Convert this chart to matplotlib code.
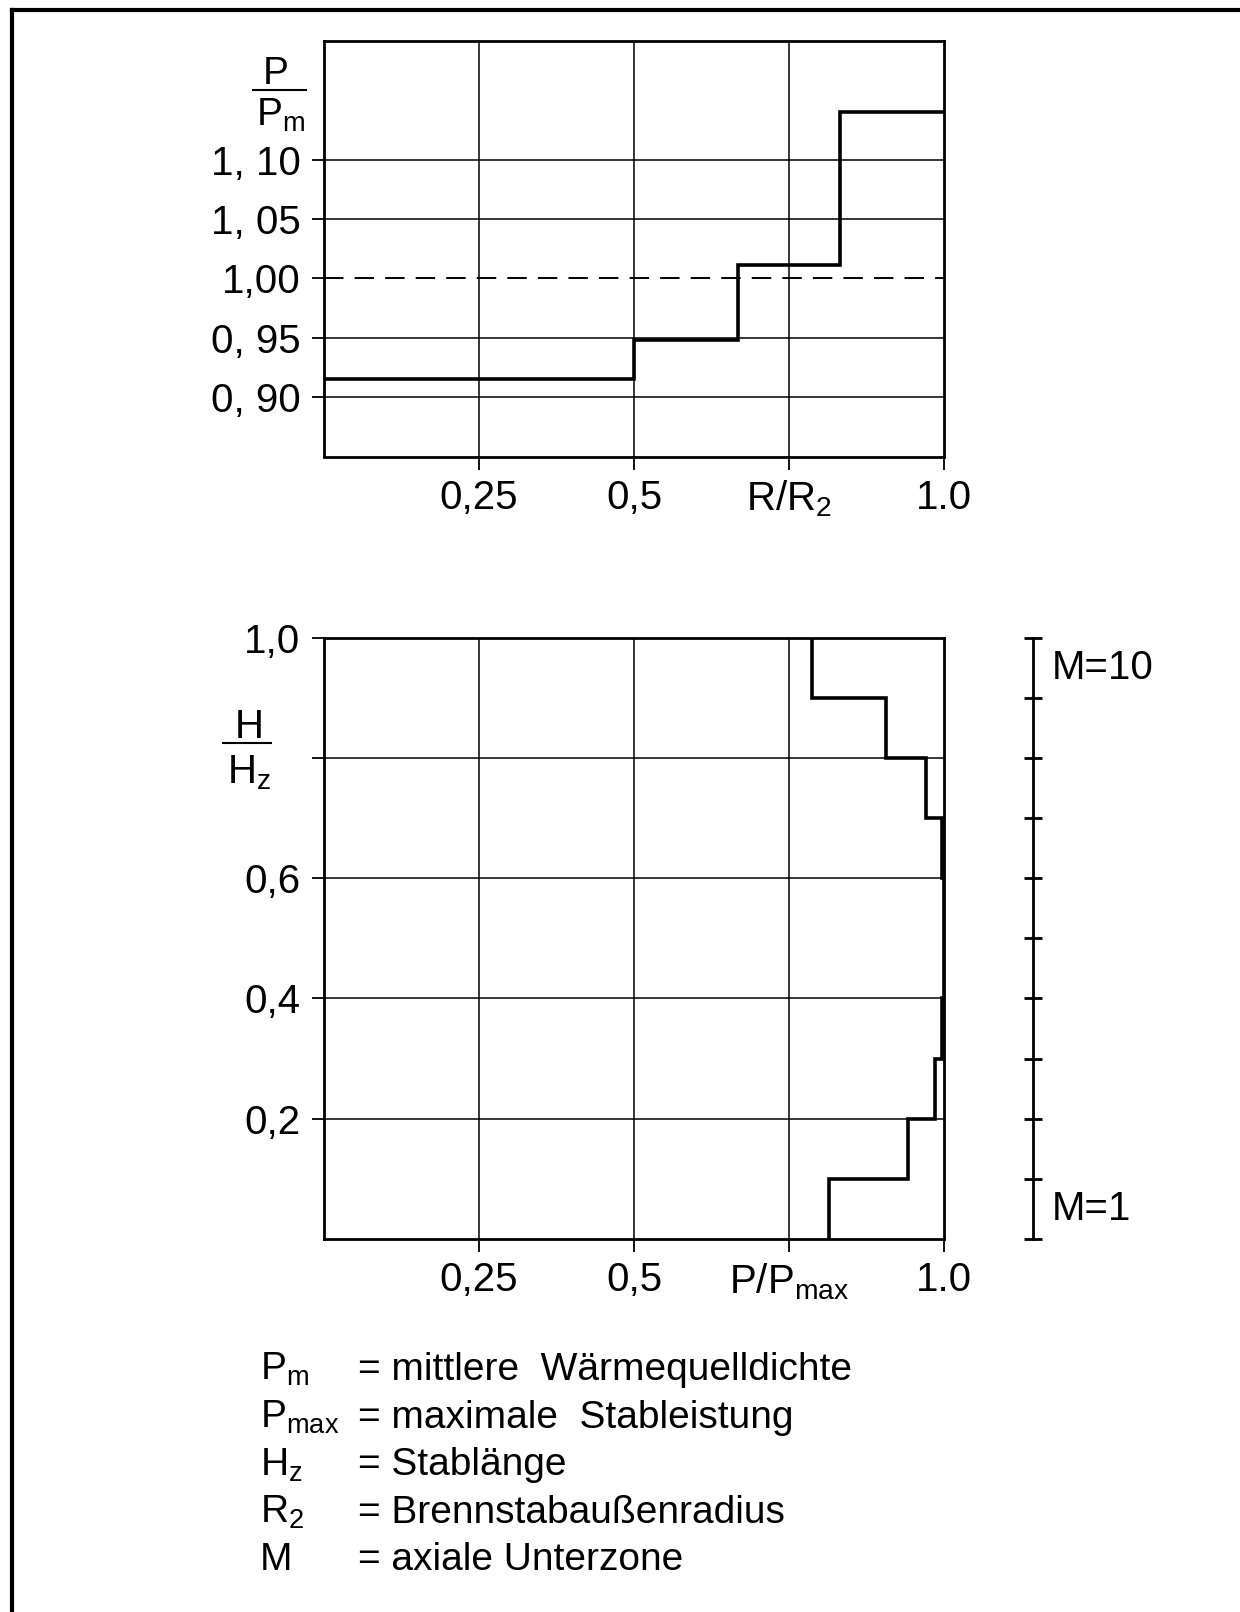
import matplotlib
matplotlib.use("Agg")
import matplotlib.pyplot as plt
from matplotlib.lines import Line2D

# radial power profile over the pellet radius
r_edges = [0.0, 0.5, 0.667, 0.833, 1.0]
p_radial = [0.915, 0.948, 1.011, 1.140]
r_ticks = [0.25, 0.5, 0.75, 1.0]
r_labels = ["0,25", "0,5", r"$\mathregular{R/R_2}$", "1.0"]
pr_ticks = [0.90, 0.95, 1.00, 1.05, 1.10]
pr_labels = ["0, 90", "0, 95", "1,00", "1, 05", "1, 10"]

# axial power profile, ten sub-zones over the rod length
h_edges = [0.0, 0.1, 0.2, 0.3, 0.4, 0.5, 0.6, 0.7, 0.8, 0.9, 1.0]
p_axial = [0.814, 0.942, 0.986, 0.997, 1.0, 1.0, 0.997, 0.971, 0.906, 0.787]
pa_ticks = [0.25, 0.5, 0.75, 1.0]
pa_labels = ["0,25", "0,5", r"$\mathregular{P/P_{max}}$", "1.0"]
h_ticks = [0.2, 0.4, 0.6, 0.8, 1.0]
h_labels = ["0,2", "0,4", "0,6", "", "1,0"]

legend_sym = [r"$\mathregular{P_m}$", r"$\mathregular{P_{max}}$", r"$\mathregular{H_z}$",
              r"$\mathregular{R_2}$", "M"]
legend_txt = ["= mittlere  Wärmequelldichte", "= maximale  Stableistung", "= Stablänge",
              "= Brennstabaußenradius", "= axiale Unterzone"]

plt.rcParams["font.family"] = ["Liberation Sans", "DejaVu Sans"]
plt.rcParams["lines.scale_dashes"] = False

W, H = 1240, 1612
fig = plt.figure(figsize=(W / 100, H / 100), dpi=100)


def fx(x):
    return x / W


def fy(y):
    return 1 - y / H


def style(ax):
    for s in ax.spines.values():
        s.set_linewidth(2.0)
    ax.tick_params(direction="out", length=9, width=1.3, labelsize=29, pad=8)
    ax.tick_params(axis="x", pad=7)


# upper plot: P/Pm over R/R2
ax1 = fig.add_axes([fx(324), fy(456.5), fx(620), 415.4 / H])
ax1.set_xlim(0, 1)
ax1.set_ylim(0.85, 1.20)
for x in r_ticks[:-1]:
    ax1.axvline(x, color="k", lw=1.1)
for y in pr_ticks:
    if y == 1.0:
        ax1.axhline(y, color="k", lw=1.4, dashes=(14, 8))
    else:
        ax1.axhline(y, color="k", lw=1.1)
ax1.stairs(p_radial, r_edges, baseline=None, color="k", lw=2.6)
ax1.set_xticks(r_ticks, r_labels)
ax1.set_yticks(pr_ticks, pr_labels)
style(ax1)

fig.text(fx(276), fy(84), "P", fontsize=28, ha="center", va="baseline")
fig.add_artist(Line2D([fx(253), fx(306)], [fy(90), fy(90)], color="k", lw=1.5))
fig.text(fx(281), fy(126), r"$\mathregular{P_m}$", fontsize=28, ha="center", va="baseline")

# lower plot: H/Hz over P/Pmax
ax2 = fig.add_axes([fx(324), fy(1239), fx(620), 601.5 / H])
ax2.set_xlim(0, 1)
ax2.set_ylim(0, 1)
for x in pa_ticks[:-1]:
    ax2.axvline(x, color="k", lw=1.1)
for y in h_ticks[:-1]:
    ax2.axhline(y, color="k", lw=1.1)
ax2.stairs(p_axial, h_edges, orientation="horizontal", baseline=None, color="k", lw=2.6)
ax2.set_xticks(pa_ticks, pa_labels)
ax2.set_yticks(h_ticks, h_labels)
style(ax2)

fig.text(fx(249), fy(738), "H", fontsize=29, ha="center", va="baseline")
fig.add_artist(Line2D([fx(223), fx(271)], [fy(743), fy(743)], color="k", lw=1.5))
fig.text(fx(249), fy(783), r"$\mathregular{H_z}$", fontsize=29, ha="center", va="baseline")

# sub-zone scale to the right of the lower plot
zx = 1.1435
ax2.plot([zx, zx], [h_edges[0], h_edges[-1]], color="k", lw=2.0, clip_on=False)
ax2.hlines(h_edges, zx - 0.0145, zx + 0.0145, color="k", lw=2.0, clip_on=False)
ax2.text(zx + 0.03, (h_edges[-2] + h_edges[-1]) / 2, "M=10", fontsize=29, va="center")
ax2.text(zx + 0.03, (h_edges[0] + h_edges[1]) / 2, "M=1", fontsize=29, va="center")

# symbol list
for i, (sym, txt) in enumerate(zip(legend_sym, legend_txt)):
    yb = 1380 + 47.6 * i
    fig.text(fx(260), fy(yb), sym, fontsize=28, va="baseline")
    fig.text(fx(358), fy(yb), txt, fontsize=28, va="baseline")

# page frame, top and left edge
fig.add_artist(Line2D([fx(12), fx(W)], [fy(10), fy(10)], color="k", lw=3))
fig.add_artist(Line2D([fx(12), fx(12)], [fy(10), fy(H)], color="k", lw=3))

fig.savefig("out.png", dpi=100)
